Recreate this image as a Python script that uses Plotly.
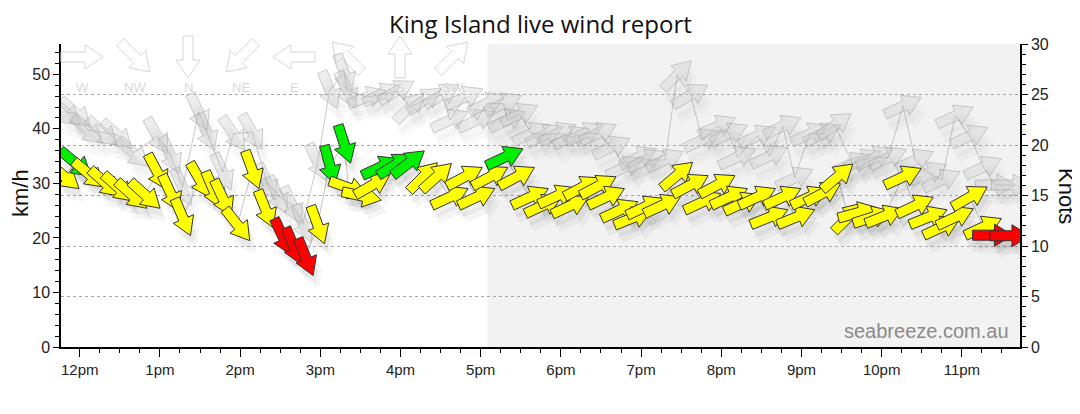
import math
import plotly.graph_objects as go

DAY = "2024-05-01 "

# ---------------- data ----------------
speed_times = ["11:48","11:57","12:07","12:19","12:29","12:39","12:49","12:58","13:08","13:17",
               "13:30","13:40","13:47","13:58","14:09","14:19","14:32","14:40","14:49","14:58",
               "15:07","15:18","15:21","15:31","15:39","15:45","15:56","16:06","16:17","16:27",
               "16:37","16:48","16:57","17:07","17:18","17:27","17:37","17:47","17:57","18:07",
               "18:16","18:28","18:34","18:44","18:54","19:03","19:16","19:27","19:37","19:46",
               "19:57","20:06","20:16","20:27","20:36","20:46","20:56","21:06","21:16","21:27",
               "21:35","21:42","21:53","22:02","22:16","22:25","22:35","22:45","22:55","23:06",
               "23:16","23:23","23:36"]
speed_kmh = [31.4,33.7,31.7,30.1,29.2,27.9,27.9,32.1,28.2,23.8,
             30.6,28.8,27.3,22.4,32.5,25.3,20.2,18.5,16.5,22.4,
             33.4,37.2,29.2,27.7,29.7,33.0,33.4,33.7,31.2,31.2,
             27.5,31.2,27.5,31.2,34.8,31.2,27.5,26.0,27.7,25.9,
             29.3,29.5,27.5,25.1,23.7,25.7,26.0,31.5,29.7,26.6,
             29.7,27.5,26.4,27.5,23.8,27.5,23.8,27.5,28.2,31.2,
             23.8,24.6,23.8,24.0,31.2,25.9,23.8,22.0,23.8,27.5,
             22.0,20.5,20.4]
speed_dir = [310,310,310,312,312,312,312,332,335,337,
             330,337,335,322,340,338,335,337,338,340,
             345,342,290,282,240,245,238,232,225,228,
             245,242,245,242,245,242,245,245,245,245,
             242,242,245,245,248,245,245,230,242,245,
             242,245,245,245,248,245,248,245,242,230,
             225,255,252,248,245,245,248,245,245,240,
             245,270,270]
speed_class = ["Y","G","Y","Y","Y","Y","Y","Y","Y","Y",
               "Y","Y","Y","Y","Y","Y","R","R","R","Y",
               "G","G","Y","Y","Y","G","G","G","Y","Y",
               "Y","Y","Y","Y","G","Y","Y","Y","Y","Y",
               "Y","Y","Y","Y","Y","Y","Y","Y","Y","Y",
               "Y","Y","Y","Y","Y","Y","Y","Y","Y","Y",
               "Y","Y","Y","Y","Y","Y","Y","Y","Y","Y",
               "Y","R","R"]

gust_times = ["11:49","11:57","12:06","12:17","12:28","12:40","12:58","13:08","13:17","13:29",
              "13:35","13:47","13:55","14:09","14:20","14:28","14:39","14:47","14:58","15:07",
              "15:18","15:20","15:35","15:46","15:57","16:07","16:18","16:31","16:37","16:48",
              "16:57","17:05","17:17","17:20","17:29","17:38","17:48","17:58","18:08","18:18",
              "18:28","18:38","18:48","18:58","19:04","19:18","19:27","19:37","19:46","19:57",
              "20:06","20:12","20:27","20:36","20:46","20:55","21:06","21:16","21:25","21:38",
              "21:46","21:55","22:05","22:16","22:25","22:35","22:45","22:55","23:06","23:16",
              "23:25","23:37"]
gust_kmh = [43.1,42.9,39.8,39.4,38.9,35.6,38.7,35.2,29.3,43.1,
            39.4,32.1,39.1,39.4,30.3,27.9,26.0,22.7,33.9,47.1,
            50.2,47.1,45.8,46.4,46.9,44.0,45.3,46.2,41.6,45.8,
            41.6,44.7,44.6,41.6,42.7,39.2,38.9,39.2,38.5,39.2,
            39.2,36.7,33.0,34.8,34.3,34.3,49.9,46.2,38.0,40.5,
            39.1,34.8,38.7,35.0,40.5,31.0,39.1,39.1,40.7,33.7,
            34.3,34.8,34.7,44.2,34.3,31.9,30.6,42.4,38.7,33.0,
            29.7,29.7]
gust_dir = [312,312,312,312,312,312,330,335,335,335,
            337,335,325,330,335,335,335,337,335,338,
            340,335,250,245,240,225,235,240,245,245,
            245,245,245,245,245,245,245,245,245,245,
            245,245,245,245,245,245,225,240,245,245,
            245,245,245,245,245,245,245,245,235,245,
            245,245,245,245,245,245,245,245,245,245,
            270,270]

hour_ticks = ["12:00","13:00","14:00","15:00","16:00","17:00","18:00","19:00","20:00","21:00","22:00","23:00"]
hour_labels = ["12pm","1pm","2pm","3pm","4pm","5pm","6pm","7pm","8pm","9pm","10pm","11pm"]
compass_labels = ["W","NW","N","NE","E","SE","S","SW"]
compass_from = [270,315,0,45,90,135,180,225]
night_start = "17:05"
x_start, x_end = "11:46", "23:43:30"
KMH_PER_KNOT = 1.852
knots_max = 30

# ---------------- layout geometry / styles ----------------
# page body has an 8px margin; the figure is sized so the plot area lands where the reference has it
BODY = 8
W, H = 1072, 398
PLOT_L, PLOT_T, PW, PH = 61, 44, 959, 303          # on-screen plot box
ML, MT = PLOT_L - BODY, PLOT_T - BODY
MR, MB = W - ML - PW, H - MT - PH
PLOT_B = PLOT_T + PH
COLORS = {"Y": "#ffff00", "G": "#00ee00", "R": "#ff0000"}


def px_x(sx):
    return (sx - PLOT_L) / PW


def px_y(sy):
    return (PLOT_B - sy) / PH


def arrow_path(deg_from, L=40, shaft=5, head=11, headlen=18, ox=0.0, oy=0.0):
    hd = math.radians(deg_from + 180.0)
    ux, uy = math.sin(hd), math.cos(hd)
    px, py = -uy, ux
    base = L / 2 - headlen
    local = [(-L / 2, -shaft), (base, -shaft), (base, -head), (L / 2, 0),
             (base, head), (base, shaft), (-L / 2, shaft)]
    pts = [(a * ux + b * px + ox, a * uy + b * py + oy) for a, b in local]
    return "M " + " L ".join(f"{x:.2f},{y:.2f}" for x, y in pts) + " Z"


def arrow_shape(t, v, d, fill, line, lw=1, **kw):
    return dict(type="path", xref="x", yref="y", xsizemode="pixel", ysizemode="pixel",
                xanchor=DAY + t, yanchor=v, path=arrow_path(d, **kw),
                fillcolor=fill, line=dict(color=line, width=lw), layer="above")


shapes = []
# night shading
shapes.append(dict(type="rect", xref="x", yref="paper", x0=DAY + night_start, x1=DAY + x_end,
                   y0=0, y1=1, fillcolor="#f2f2f2", line=dict(width=0), layer="below"))

# compass legend
for i, d in enumerate(compass_from):
    shapes.append(dict(type="path", xref="paper", yref="paper", xsizemode="pixel",
                       ysizemode="pixel", xanchor=px_x(82 + 53 * i), yanchor=px_y(57),
                       path=arrow_path(d, L=42, shaft=5, head=12, headlen=18),
                       fillcolor="rgba(255,255,255,0)", line=dict(color="#d6d6d6", width=1),
                       layer="above"))

# gust arrows with soft shadows
for t, v, d in zip(gust_times, gust_kmh, gust_dir):
    for ox, oy, a in [(3, -9, 0.025), (6, -14, 0.025)]:
        shapes.append(arrow_shape(t, v, d, f"rgba(0,0,0,{a})", "rgba(0,0,0,0)", 0, ox=ox, oy=oy))
for t, v, d in zip(gust_times, gust_kmh, gust_dir):
    shapes.append(arrow_shape(t, v, d, "rgba(195,195,195,0.3)", "rgba(150,150,150,0.45)", 1))

# speed arrows with shadows
for t, v, d in zip(speed_times, speed_kmh, speed_dir):
    for ox, oy, a in [(3, -8, 0.05), (6, -13, 0.04)]:
        shapes.append(arrow_shape(t, v, d, f"rgba(0,0,0,{a})", "rgba(0,0,0,0)", 0, ox=ox, oy=oy))
for t, v, d, c in zip(speed_times, speed_kmh, speed_dir, speed_class):
    shapes.append(arrow_shape(t, v, d, COLORS[c], "#333333", 1))

fig = go.Figure()
fig.add_trace(go.Scatter(x=[DAY + t for t in gust_times], y=gust_kmh, mode="lines",
                         line=dict(color="rgba(140,140,140,0.45)", width=1),
                         showlegend=False, hoverinfo="skip"))
fig.add_trace(go.Scatter(x=[DAY + t for t in speed_times], y=speed_kmh, mode="lines",
                         line=dict(color="rgba(120,120,120,0.45)", width=1),
                         showlegend=False, hoverinfo="skip"))
fig.add_trace(go.Scatter(x=[DAY + t for t in speed_times], y=[v / KMH_PER_KNOT for v in speed_kmh],
                         yaxis="y2", mode="lines", line=dict(width=0, color="rgba(0,0,0,0)"),
                         showlegend=False, hoverinfo="skip"))

annotations = [
    dict(text="King Island live wind report", xref="paper", yref="paper", x=px_x(540),
         y=px_y(23.5), showarrow=False, borderpad=0,
         font=dict(size=24, color="#111", family="Open Sans, Noto Sans, sans-serif"),
         xanchor="center", yanchor="middle"),
    dict(text="km/h", xref="paper", yref="paper", x=px_x(20), y=px_y(193),
         textangle=-90, showarrow=False, font=dict(size=22, color="#111"),
         xanchor="center", yanchor="middle"),
    dict(text="Knots", xref="paper", yref="paper", x=px_x(1067), y=px_y(196),
         textangle=90, showarrow=False, font=dict(size=22, color="#111"),
         xanchor="center", yanchor="middle"),
    dict(text="seabreeze.com.au", xref="paper", yref="paper", x=px_x(1011),
         y=px_y(331), showarrow=False, font=dict(size=20, color="#8a8a8a"),
         xanchor="right", yanchor="middle"),
]
for i, lab in enumerate(compass_labels):
    annotations.append(dict(text=lab, xref="paper", yref="paper", x=px_x(82 + 53 * i),
                            y=px_y(87), showarrow=False,
                            font=dict(size=13, color="#d9d9d9"), xanchor="center",
                            yanchor="middle"))

fig.update_layout(
    width=W, height=H, margin=dict(l=ML, r=MR, t=MT, b=MB, pad=0),
    paper_bgcolor="white", plot_bgcolor="white",
    font=dict(family="Liberation Sans, Arial, sans-serif", color="#222"),
    showlegend=False, shapes=shapes, annotations=annotations,
    xaxis=dict(type="date", range=[DAY + x_start, DAY + x_end],
               tickvals=[DAY + t for t in hour_ticks], ticktext=hour_labels,
               ticks="outside", ticklen=8, tickcolor="#000", showgrid=False,
               showline=True, linecolor="#000", linewidth=1.5, zeroline=False,
               tickfont=dict(size=15, color="#222"),
               minor=dict(dtick=15 * 60 * 1000, ticks="outside", ticklen=4, tickcolor="#000",
                          showgrid=False)),
    yaxis=dict(range=[0, knots_max * KMH_PER_KNOT], tickvals=[0, 10, 20, 30, 40, 50],
               ticks="outside", ticklen=6, tickcolor="#000", showgrid=False,
               showline=True, linecolor="#000", linewidth=1.5, zeroline=False,
               tickfont=dict(size=16, color="#222"),
               minor=dict(dtick=2, ticks="outside", ticklen=4, tickcolor="#000", showgrid=False)),
    yaxis2=dict(range=[0, knots_max], overlaying="y", side="right", dtick=5,
                ticks="outside", ticklen=6, tickcolor="#000",
                showgrid=True, gridcolor="#a8a8a8", griddash="dot", gridwidth=1,
                showline=True, linecolor="#000", linewidth=1.5, zeroline=False,
                tickfont=dict(size=16, color="#222"),
                minor=dict(dtick=1, ticks="outside", ticklen=4, tickcolor="#000", showgrid=False)),
)

fig.write_html("out.html")
